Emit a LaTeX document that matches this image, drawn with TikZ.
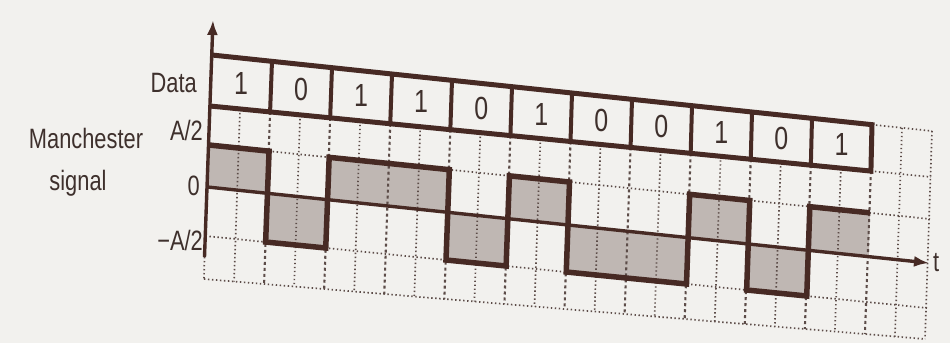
\documentclass[tikz,border=0pt]{standalone}
\usepackage{fontspec}
\setmainfont{Liberation Sans}[FakeStretch=0.78]
\usetikzlibrary{calc,arrows.meta}
\definecolor{ink}{HTML}{472A24}
\definecolor{paper}{HTML}{F2F1EE}
\definecolor{shadecol}{HTML}{BFB7B3}
\definecolor{gridcol}{HTML}{5C4C48}
\definecolor{txt}{HTML}{3E302C}
\tikzset{
  dotgrid/.style={gridcol, line width=1.7pt, dash pattern=on 1.4pt off 2.6pt},
  dashgrid/.style={gridcol, line width=2.1pt, dash pattern=on 3pt off 3pt},
  boxline/.style={ink, line width=5pt, line join=miter},
  divider/.style={ink, line width=4pt},
  sig/.style={ink, line width=5.5pt, line join=miter},
  axisline/.style={ink, line width=3.4pt},
  lbl/.style={text=txt, inner sep=0pt, font=\fontsize{28}{30}\selectfont},
  bitlbl/.style={text=txt, inner sep=0pt, font=\fontsize{32}{34}\selectfont},
  tip/.style={-{Latex[length=15pt,width=11pt]}}
}
\begin{document}
\begin{tikzpicture}[x=1pt,y=-1pt]
\path[use as bounding box, fill=paper] (0,0) rectangle (950,343);
% level lines (left end at u=0, right end at u=12)
\coordinate (TL) at (212,55);    \coordinate (TR) at (932,131);
\coordinate (BL) at (210,106);   \coordinate (BR) at (931,177);
\coordinate (AL) at (209,145);   \coordinate (AR) at (930,219);
\coordinate (ZL) at (207.5,187); \coordinate (ZR) at (929,263);
\coordinate (NL) at (205.5,236); \coordinate (NR) at (927,308);
\coordinate (OL) at (204,279);   \coordinate (OR) at (925,339);
\foreach \lv in {T,B,A,Z,N,O}{
  \foreach \h in {0,...,24}{
    \coordinate (\lv\h) at ($(\lv L)!\h/24!(\lv R)$);
  }
}
\coordinate (AxB) at (204.5,257);
\coordinate (AxT) at (213,20);
% shaded areas and bit labels
\foreach \b [count=\i from 0] in {1,0,1,1,0,1,0,0,1,0,1}{
  \pgfmathtruncatemacro\ha{2*\i}
  \pgfmathtruncatemacro\hb{2*\i+2}
  \pgfmathtruncatemacro\hc{2*\i+1}
  \ifnum\b=1 \def\lev{A}\else\def\lev{N}\fi
  \fill[shadecol] (Z\ha) -- (\lev\ha) -- (\lev\hb) -- (Z\hb) -- cycle;
  \node[bitlbl] (d\i) at ($(T\hc)!0.5!(B\hc)$) {\b};
}
% grid
\draw[dotgrid] (A0) -- (A24);
\draw[dotgrid] (N0) -- (N24);
\draw[dotgrid] (O0) -- (O24);
\draw[dotgrid] (T22) -- (T24);
\draw[dotgrid] (B22) -- (B24);
\foreach \h in {1,3,...,21}{ \draw[dotgrid] (B\h) -- (O\h); }
\draw[dotgrid] (T23) -- (O23);
\draw[dotgrid] (T24) -- (O24);
\foreach \h in {2,4,...,22}{ \draw[dashgrid] (B\h) -- (O\h); }
\draw[dotgrid] (AxB) -- (O0);
% data box
\draw[boxline] (T0) -- (T22) -- (B22) -- (B0);
\foreach \h in {2,4,...,20}{ \draw[divider] (T\h) -- (B\h); }
% signal
\draw[sig] (A0) -- (A2) -- (N2) -- (N4) -- (A4) -- (A8) -- (N8) -- (N10)
  -- (A10) -- (A12) -- (N12) -- (N16) -- (A16) -- (A18) -- (N18) -- (N20)
  -- (A20) -- (A22);
% axes
\draw[axisline, tip] (Z0) -- (Z24);
\draw[axisline, tip] (AxB) -- (AxT);
% labels
\node[lbl, anchor=base east] (ldata) at (197,92) {Data};
\node[lbl, anchor=base east] (lA) at (203,140) {A/2};
\node[lbl, anchor=base east] (l0) at (200,195) {0};
\node[lbl, anchor=base east] (lN) at (203,250) {−A/2};
\node[lbl, anchor=base] (lman) at (86,148) {Manchester};
\node[lbl, anchor=base] (lsig) at (78,190) {signal};
\node[lbl, anchor=west] (lt) at (933,263) {t};
\end{tikzpicture}
\end{document}
